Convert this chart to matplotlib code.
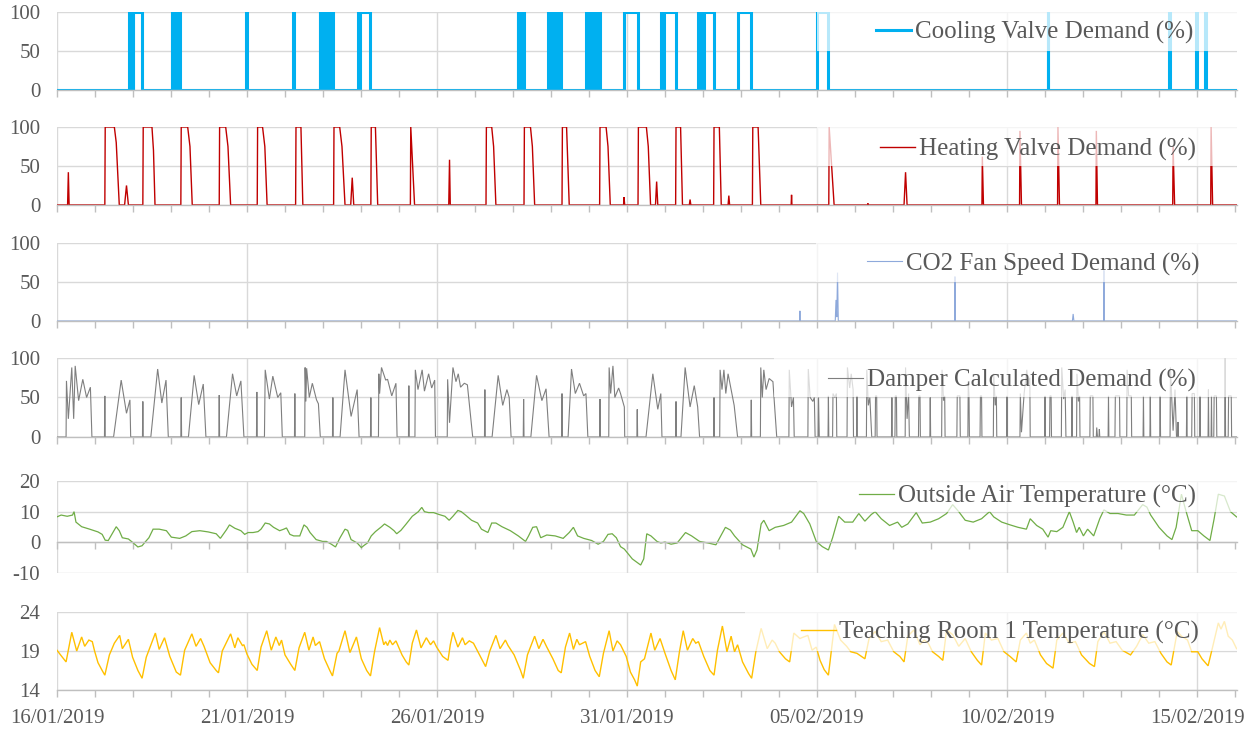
import matplotlib
matplotlib.use("Agg")
import matplotlib.pyplot as plt
import pandas as pd
from matplotlib.patches import Rectangle

plt.rcParams["font.family"] = ["Liberation Serif", "DejaVu Serif"]

START = pd.Timestamp("2019-01-16")
X_END = 31.05  # days after START

# all times are in days after 16/01/2019 00:00

# cooling valve: periods when the valve is at 100 %
cool_on = [
    (1.90, 1.92), (1.935, 1.955), (1.97, 1.99), (2.005, 2.24),
    (3.02, 3.04), (3.06, 3.08), (3.10, 3.12), (3.14, 3.16), (3.18, 3.20), (3.22, 3.24),
    (4.97, 5.01), (6.20, 6.24),
    (6.91, 6.93), (6.95, 6.97), (6.99, 7.01), (7.03, 7.05), (7.07, 7.09),
    (7.11, 7.13), (7.15, 7.17), (7.19, 7.21), (7.23, 7.26),
    (7.93, 7.95), (7.97, 8.25),
    (12.12, 12.14), (12.16, 12.18), (12.20, 12.22), (12.24, 12.28),
    (12.92, 12.94), (12.96, 12.98), (13.00, 13.02), (13.04, 13.06), (13.08, 13.10),
    (13.12, 13.14), (13.16, 13.18), (13.20, 13.22), (13.24, 13.27),
    (13.92, 13.94), (13.96, 13.98), (14.00, 14.02), (14.04, 14.06), (14.08, 14.10),
    (14.12, 14.14), (14.16, 14.18), (14.20, 14.22), (14.24, 14.29),
    (14.93, 15.28),
    (15.89, 15.91), (15.93, 15.95), (15.97, 16.29),
    (16.87, 16.89), (16.91, 16.93), (16.95, 16.97), (16.99, 17.01), (17.03, 17.29),
    (17.91, 18.27), (20.00, 20.30),
    (26.07, 26.09), (29.26, 29.28), (29.98, 30.00), (30.22, 30.24),
]

heat_pts = [
    (0, 0), (0.28, 0), (0.30, 42), (0.32, 0),
    (1.26, 0), (1.27, 100), (1.51, 100), (1.56, 80), (1.64, 0), (1.78, 0), (1.83, 25), (1.88, 0),
    (2.26, 0), (2.27, 100), (2.50, 100), (2.54, 70), (2.58, 0),
    (3.26, 0), (3.27, 100), (3.44, 100), (3.50, 75), (3.56, 0),
    (4.27, 0), (4.28, 100), (4.44, 100), (4.50, 75), (4.57, 0),
    (5.27, 0), (5.28, 100), (5.41, 100), (5.47, 75), (5.53, 0),
    (6.28, 0), (6.29, 100), (6.42, 100), (6.47, 0),
    (7.28, 0), (7.29, 100), (7.44, 100), (7.50, 75), (7.58, 0), (7.73, 0), (7.77, 35), (7.81, 0),
    (8.26, 0), (8.27, 100), (8.38, 100), (8.44, 0),
    (9.30, 0), (9.31, 100), (9.41, 0),
    (10.31, 0), (10.33, 58), (10.35, 0),
    (11.29, 0), (11.30, 100), (11.44, 100), (11.49, 75), (11.55, 0),
    (12.29, 0), (12.30, 100), (12.46, 100), (12.51, 75), (12.57, 0),
    (13.29, 0), (13.30, 100), (13.41, 100), (13.48, 0),
    (14.28, 0), (14.29, 100), (14.45, 100), (14.50, 75), (14.56, 0),
    (14.91, 0), (14.92, 10), (14.94, 0),
    (15.29, 0), (15.30, 100), (15.51, 100), (15.56, 75), (15.62, 0), (15.75, 0), (15.78, 30), (15.81, 0),
    (16.28, 0), (16.29, 100), (16.41, 100), (16.46, 0), (16.64, 0), (16.66, 7), (16.68, 0),
    (17.28, 0), (17.29, 100), (17.43, 100), (17.48, 0), (17.66, 0), (17.68, 12), (17.70, 0),
    (18.30, 0), (18.31, 100), (18.45, 100), (18.52, 0),
    (19.32, 0), (19.33, 13), (19.34, 0),
    (20.31, 0), (20.32, 100), (20.45, 0),
    (21.33, 0), (21.34, 2), (21.35, 0),
    (22.29, 0), (22.33, 42), (22.37, 0),
    (24.34, 0), (24.35, 62), (24.38, 0),
    (25.33, 0), (25.34, 95), (25.38, 0),
    (26.33, 0), (26.34, 100), (26.38, 0),
    (27.34, 0), (27.35, 95), (27.38, 0),
    (29.36, 0), (29.37, 75), (29.41, 0),
    (30.36, 0), (30.37, 100), (30.41, 0), (31.04, 0),
]

co2_pts = [
    (0, 0), (19.54, 0), (19.55, 13), (19.56, 0),
    (20.48, 0), (20.50, 27), (20.52, 5), (20.54, 62), (20.56, 0),
    (23.62, 0), (23.63, 57), (23.64, 0),
    (26.72, 0), (26.74, 9), (26.76, 0),
    (27.54, 0), (27.55, 65), (27.56, 0), (31.04, 0),
]

damper_pts = [
    (0, 0), (0.24, 0), (0.25, 71), (0.30, 23), (0.39, 88), (0.44, 23), (0.48, 90),
    (0.57, 46), (0.68, 73), (0.78, 50), (0.88, 63), (0.92, 0),
    (1.25, 0), (1.26, 52), (1.27, 0), (1.49, 0), (1.69, 72), (1.83, 30), (1.92, 47), (1.94, 0),
    (2.25, 0), (2.26, 45), (2.27, 0), (2.47, 0), (2.65, 86), (2.76, 43), (2.87, 72), (2.93, 0),
    (3.26, 0), (3.27, 50), (3.28, 0), (3.46, 0), (3.61, 78), (3.73, 41), (3.85, 67), (3.92, 0),
    (4.26, 0), (4.27, 53), (4.28, 0), (4.46, 0), (4.62, 80), (4.73, 52), (4.84, 71), (4.92, 0),
    (5.25, 0), (5.26, 57), (5.27, 0), (5.46, 0), (5.48, 85), (5.59, 48), (5.68, 77),
    (5.81, 50), (5.89, 56), (5.93, 0),
    (6.25, 0), (6.26, 55), (6.27, 0), (6.52, 0), (6.53, 88), (6.55, 45), (6.57, 87),
    (6.64, 50), (6.72, 68), (6.83, 47), (6.88, 42), (6.93, 0),
    (7.25, 0), (7.26, 50), (7.27, 0), (7.45, 0), (7.58, 85), (7.74, 26), (7.90, 60), (7.95, 0),
    (8.25, 0), (8.26, 50), (8.27, 0), (8.46, 0), (8.47, 80), (8.49, 55), (8.54, 88),
    (8.65, 72), (8.70, 73), (8.81, 52), (8.92, 68), (8.95, 0),
    (9.25, 0), (9.26, 65), (9.27, 0), (9.42, 0), (9.43, 85), (9.50, 60), (9.61, 85),
    (9.67, 58), (9.78, 80), (9.86, 62), (9.94, 72), (9.96, 0),
    (10.27, 0), (10.28, 73), (10.33, 18), (10.42, 88), (10.50, 70), (10.56, 80),
    (10.62, 63), (10.72, 68), (10.80, 66), (10.94, 0),
    (11.25, 0), (11.26, 60), (11.27, 0), (11.45, 0), (11.61, 78), (11.73, 40),
    (11.84, 60), (11.90, 50), (11.95, 0),
    (12.27, 0), (12.28, 48), (12.29, 0), (12.47, 0), (12.62, 78), (12.76, 46), (12.87, 61), (12.95, 0),
    (13.28, 0), (13.29, 55), (13.30, 0), (13.45, 0), (13.54, 86), (13.64, 55), (13.75, 68),
    (13.86, 52), (13.92, 55), (13.97, 0),
    (14.28, 0), (14.29, 48), (14.30, 0), (14.52, 0), (14.53, 88), (14.57, 55), (14.63, 90),
    (14.68, 50), (14.78, 62), (14.83, 55), (14.93, 38), (14.94, 0),
    (15.26, 0), (15.27, 35), (15.28, 0), (15.50, 0), (15.68, 80), (15.81, 35), (15.89, 55), (15.92, 0),
    (16.28, 0), (16.29, 45), (16.30, 0), (16.42, 0), (16.53, 88), (16.66, 38), (16.77, 65),
    (16.86, 38), (16.91, 0),
    (17.28, 0), (17.29, 50), (17.30, 0), (17.44, 0), (17.45, 85), (17.50, 60), (17.55, 85),
    (17.60, 55), (17.66, 80), (17.82, 40), (17.91, 0),
    (18.26, 0), (18.27, 47), (18.28, 0), (18.51, 0), (18.52, 88), (18.56, 50), (18.60, 85),
    (18.66, 60), (18.74, 74), (18.84, 70), (18.94, 0),
    (19.26, 0), (19.27, 85), (19.33, 38), (19.38, 50), (19.40, 0),
    (19.76, 0), (19.77, 86), (19.82, 50), (19.89, 45), (19.93, 50), (19.95, 0),
    (20.03, 0), (20.04, 50), (20.06, 0), (20.29, 0), (20.30, 52), (20.31, 0),
    (20.41, 0), (20.42, 55), (20.47, 50), (20.51, 55), (20.52, 0),
    (20.79, 0), (20.80, 88), (20.86, 62), (20.90, 80), (20.95, 60), (20.96, 0),
    (21.04, 0), (21.05, 52), (21.06, 0),
    (21.30, 0), (21.31, 85), (21.35, 40), (21.39, 50), (21.44, 0),
    (21.53, 0), (21.54, 52), (21.57, 52), (21.58, 0),
    (21.96, 0), (21.97, 50), (21.98, 0), (22.05, 0), (22.06, 52), (22.09, 52), (22.10, 0),
    (22.32, 0), (22.33, 88), (22.37, 23), (22.41, 55), (22.43, 0),
    (22.67, 0), (22.68, 52), (22.71, 52), (22.72, 0), (22.97, 0), (22.98, 50), (22.99, 0),
    (23.28, 0), (23.29, 85), (23.33, 46), (23.36, 52), (23.37, 0),
    (23.68, 0), (23.69, 52), (23.76, 52), (23.77, 0),
    (23.97, 0), (23.98, 70), (24.00, 50), (24.01, 0),
    (24.29, 0), (24.30, 52), (24.33, 52), (24.34, 0),
    (24.64, 0), (24.65, 80), (24.69, 40), (24.72, 52), (24.73, 0),
    (24.99, 0), (25.00, 52), (25.01, 0),
    (25.34, 0), (25.35, 55), (25.38, 6), (25.45, 55), (25.52, 85), (25.56, 65), (25.60, 75), (25.61, 0),
    (25.99, 0), (26.00, 52), (26.01, 0), (26.12, 0), (26.13, 52), (26.16, 52), (26.17, 0),
    (26.43, 0), (26.44, 88), (26.49, 48), (26.53, 60), (26.55, 0),
    (26.70, 0), (26.71, 52), (26.72, 0),
    (26.83, 0), (26.84, 80), (26.88, 45), (26.91, 52), (26.92, 0),
    (27.18, 0), (27.19, 52), (27.26, 52), (27.27, 0), (27.35, 0), (27.36, 12), (27.38, 0),
    (27.42, 0), (27.43, 10), (27.44, 0),
    (27.66, 0), (27.67, 52), (27.68, 0), (27.84, 0), (27.85, 52), (27.96, 52), (27.97, 0),
    (28.15, 0), (28.16, 85), (28.20, 52), (28.27, 52), (28.28, 0),
    (28.58, 0), (28.59, 52), (28.60, 0), (28.76, 0), (28.77, 52), (28.78, 0),
    (29.02, 0), (29.03, 52), (29.04, 0),
    (29.29, 0), (29.30, 88), (29.37, 8), (29.42, 60), (29.46, 0), (29.49, 0), (29.50, 19), (29.51, 0),
    (29.72, 0), (29.73, 52), (29.74, 0), (29.86, 0), (29.87, 55), (29.93, 55), (29.94, 0),
    (30.07, 0), (30.08, 52), (30.09, 0),
    (30.29, 0), (30.30, 60), (30.31, 0), (30.37, 0), (30.38, 52), (30.39, 0),
    (30.44, 0), (30.45, 52), (30.51, 52), (30.52, 0),
    (30.73, 0), (30.74, 100), (30.75, 0), (30.82, 0), (30.83, 52), (30.90, 52), (30.91, 0), (31.04, 0),
]

oat_pts = [
    (0.00, 8.3), (0.11, 8.9), (0.27, 8.5), (0.41, 8.9), (0.45, 10.0), (0.50, 6.6), (0.65, 5.1),
    (0.86, 4.3), (1.08, 3.4), (1.19, 2.6), (1.27, 0.7), (1.35, 0.6), (1.42, 2.1), (1.56, 5.1),
    (1.64, 3.8), (1.72, 1.5), (1.88, 1.1), (1.99, 0.0), (2.13, -1.5), (2.24, -1.1), (2.32, 0.1),
    (2.42, 1.5), (2.53, 4.3), (2.69, 4.3), (2.88, 3.8), (3.01, 1.7), (3.23, 1.3), (3.39, 2.1),
    (3.55, 3.5), (3.76, 3.8), (3.98, 3.4), (4.19, 2.8), (4.30, 1.3), (4.46, 4.1), (4.54, 5.7),
    (4.68, 4.6), (4.84, 3.8), (4.94, 2.6), (5.03, 3.2), (5.16, 3.2), (5.29, 3.5), (5.37, 4.3),
    (5.48, 6.3), (5.59, 6.0), (5.70, 4.9), (5.86, 3.8), (5.97, 4.3), (6.04, 4.7), (6.13, 2.6),
    (6.23, 2.1), (6.39, 2.1), (6.50, 5.7), (6.58, 4.9), (6.66, 3.2), (6.82, 0.9), (6.99, 0.3),
    (7.09, 0.3), (7.22, -0.6), (7.33, -1.5), (7.44, 1.3), (7.58, 4.3), (7.65, 3.9), (7.74, 0.9),
    (7.90, -0.2), (8.01, -1.7), (8.08, -1.0), (8.17, -0.2), (8.27, 2.1), (8.38, 3.5), (8.54, 5.1),
    (8.62, 6.0), (8.76, 4.9), (8.87, 3.8), (8.94, 2.8), (9.05, 3.9), (9.19, 6.0), (9.35, 8.5),
    (9.51, 10.0), (9.60, 11.4), (9.67, 10.0), (9.78, 9.7), (9.91, 9.7), (10.05, 9.1), (10.21, 8.5),
    (10.32, 7.2), (10.42, 8.5), (10.55, 10.4), (10.64, 10.0), (10.75, 8.9), (10.91, 7.2),
    (11.07, 6.3), (11.17, 4.3), (11.34, 3.2), (11.44, 6.3), (11.55, 6.3), (11.71, 5.1),
    (11.93, 3.8), (12.14, 2.1), (12.33, 0.3), (12.41, 2.1), (12.52, 4.9), (12.62, 5.1),
    (12.73, 1.5), (12.89, 2.4), (13.11, 2.1), (13.32, 1.3), (13.48, 3.2), (13.59, 4.9),
    (13.70, 2.1), (13.86, 1.3), (14.07, 0.6), (14.24, -0.6), (14.38, 0.3), (14.50, 2.6),
    (14.61, 2.8), (14.72, 1.5), (14.83, -1.4), (14.93, -2.2), (15.14, -5.4), (15.36, -7.4),
    (15.44, -5.4), (15.52, 2.8), (15.63, 2.1), (15.79, 0.3), (15.89, -0.2), (16.00, 0.1),
    (16.16, -0.6), (16.32, -0.2), (16.54, 3.2), (16.70, 2.1), (16.91, 0.3), (17.13, -0.2),
    (17.34, -0.8), (17.59, 4.9), (17.72, 4.0), (17.83, 2.1), (18.04, -0.8), (18.26, -2.2),
    (18.34, -4.8), (18.42, -2.5), (18.53, 6.0), (18.60, 7.2), (18.74, 3.8), (18.90, 4.9),
    (19.12, 5.5), (19.33, 6.6), (19.55, 10.3), (19.65, 9.4), (19.81, 6.0), (19.98, 0.3),
    (20.14, -1.4), (20.30, -2.5), (20.41, 1.5), (20.57, 8.5), (20.73, 6.6), (20.94, 6.6),
    (21.10, 9.4), (21.26, 6.9), (21.43, 9.1), (21.53, 10.0), (21.69, 7.7), (21.91, 5.5),
    (22.12, 6.6), (22.23, 4.9), (22.39, 6.0), (22.61, 9.7), (22.77, 6.3), (22.98, 6.6),
    (23.20, 7.7), (23.41, 9.4), (23.57, 12.3), (23.73, 10.0), (23.90, 7.2), (24.11, 6.6),
    (24.33, 7.7), (24.54, 10.0), (24.65, 8.3), (24.86, 6.6), (25.08, 5.7), (25.29, 4.9),
    (25.51, 4.3), (25.61, 7.7), (25.78, 5.5), (25.94, 4.3), (26.08, 1.7), (26.15, 3.8),
    (26.31, 3.5), (26.47, 4.9), (26.64, 10.0), (26.74, 6.6), (26.83, 3.2), (26.90, 4.9),
    (27.01, 2.1), (27.12, 4.3), (27.28, 2.1), (27.44, 7.7), (27.55, 10.6), (27.71, 9.4),
    (27.92, 9.4), (28.14, 8.9), (28.35, 8.9), (28.57, 12.3), (28.68, 11.5), (28.78, 8.9),
    (29.00, 4.9), (29.21, 2.1), (29.34, 0.9), (29.45, 4.9), (29.59, 15.7), (29.70, 10.6),
    (29.86, 3.8), (30.02, 3.8), (30.18, 2.1), (30.34, 0.6), (30.45, 7.7), (30.56, 15.7),
    (30.72, 15.1), (30.88, 10.0), (31.04, 8.3),
]

room_pts = [
    (0.00, 19.1), (0.11, 18.4), (0.24, 17.6), (0.39, 21.4), (0.52, 19.0), (0.65, 20.8),
    (0.73, 19.6), (0.84, 20.4), (0.93, 20.2), (0.99, 19.0), (1.08, 17.5), (1.19, 16.5),
    (1.26, 15.9), (1.38, 18.5), (1.51, 20.0), (1.65, 21.0), (1.72, 19.3), (1.88, 20.5),
    (1.99, 18.2), (2.13, 16.5), (2.24, 15.5), (2.35, 18.2), (2.59, 21.3), (2.69, 19.2),
    (2.83, 20.7), (2.97, 18.3), (3.14, 16.3), (3.25, 15.9), (3.36, 19.1), (3.55, 21.2),
    (3.66, 19.6), (3.78, 20.6), (3.87, 19.6), (4.03, 17.5), (4.19, 16.5), (4.25, 16.2),
    (4.35, 19.0), (4.57, 21.2), (4.68, 19.4), (4.76, 20.7), (4.88, 19.7), (4.92, 19.8),
    (5.00, 18.6), (5.13, 17.3), (5.27, 16.5), (5.37, 19.5), (5.52, 21.6), (5.64, 19.1),
    (5.76, 20.8), (5.85, 19.7), (5.91, 20.4), (6.00, 18.5), (6.15, 17.3), (6.26, 16.5),
    (6.37, 19.4), (6.52, 21.4), (6.63, 19.1), (6.74, 20.8), (6.80, 19.7), (6.91, 20.2),
    (7.04, 18.0), (7.18, 16.5), (7.25, 15.8), (7.37, 18.7), (7.42, 19.0), (7.58, 21.6),
    (7.71, 18.8), (7.88, 20.8), (8.01, 18.0), (8.15, 16.5), (8.25, 15.8), (8.36, 19.0),
    (8.49, 22.0), (8.60, 19.8), (8.65, 20.2), (8.70, 19.7), (8.76, 20.4), (8.83, 19.8),
    (8.92, 20.3), (9.08, 18.5), (9.19, 17.6), (9.26, 17.2), (9.35, 20.0), (9.46, 21.7),
    (9.58, 19.4), (9.72, 20.7), (9.83, 19.8), (9.91, 20.3), (9.99, 19.5), (10.15, 18.3),
    (10.29, 17.8), (10.35, 19.8), (10.42, 21.4), (10.55, 19.5), (10.67, 20.7), (10.74, 19.8),
    (10.85, 20.3), (10.96, 20.0), (11.12, 18.5), (11.28, 17.0), (11.39, 19.0), (11.55, 21.0),
    (11.66, 19.3), (11.80, 20.4), (11.87, 19.7), (12.03, 18.5), (12.20, 16.5), (12.27, 15.5),
    (12.38, 18.5), (12.57, 20.9), (12.68, 19.3), (12.79, 20.5), (12.89, 19.5), (13.05, 18.0),
    (13.19, 16.5), (13.27, 16.2), (13.38, 19.5), (13.49, 21.3), (13.59, 19.2), (13.68, 20.5),
    (13.75, 19.8), (13.91, 20.2), (14.02, 18.3), (14.16, 16.5), (14.27, 15.7), (14.38, 18.7),
    (14.53, 21.6), (14.63, 19.0), (14.74, 20.3), (14.83, 19.8), (14.98, 18.3), (15.09, 16.3),
    (15.20, 15.3), (15.27, 14.5), (15.36, 17.6), (15.46, 18.0), (15.63, 21.3), (15.73, 19.1),
    (15.87, 20.6), (16.00, 18.7), (16.16, 16.5), (16.27, 15.3), (16.38, 18.9), (16.48, 21.6),
    (16.59, 19.1), (16.73, 20.6), (16.81, 20.0), (16.88, 20.2), (17.02, 18.3), (17.18, 16.5),
    (17.29, 15.9), (17.38, 19.1), (17.51, 22.2), (17.63, 18.9), (17.74, 20.9), (17.83, 18.9),
    (17.91, 19.8), (18.04, 17.6), (18.20, 16.1), (18.28, 15.5), (18.39, 18.9), (18.53, 21.9),
    (18.69, 19.3), (18.82, 20.4), (18.90, 20.0), (19.01, 18.9), (19.17, 18.0), (19.28, 17.6),
    (19.39, 21.3), (19.55, 20.6), (19.65, 20.8), (19.76, 21.0), (19.87, 19.1), (19.98, 19.5),
    (20.08, 17.8), (20.19, 16.6), (20.30, 15.9), (20.46, 22.4), (20.62, 20.4), (20.78, 19.6),
    (20.89, 18.9), (21.05, 18.7), (21.26, 18.0), (21.37, 20.6), (21.53, 21.5), (21.69, 20.2),
    (21.86, 20.4), (22.02, 18.9), (22.18, 18.3), (22.29, 17.6), (22.39, 20.9), (22.55, 21.7),
    (22.71, 19.8), (22.82, 20.4), (22.93, 20.0), (23.04, 18.9), (23.20, 18.3), (23.31, 17.8),
    (23.41, 21.7), (23.57, 21.1), (23.73, 19.6), (23.90, 20.6), (24.06, 18.9), (24.22, 17.8),
    (24.33, 17.2), (24.43, 21.3), (24.59, 20.4), (24.76, 20.6), (24.92, 18.9), (25.08, 18.3),
    (25.24, 17.6), (25.35, 20.4), (25.51, 21.3), (25.61, 20.0), (25.72, 20.4), (25.88, 18.5),
    (26.04, 17.4), (26.21, 16.8), (26.31, 20.4), (26.47, 21.3), (26.64, 20.0), (26.80, 20.2),
    (26.96, 18.5), (27.17, 17.4), (27.30, 17.0), (27.39, 20.2), (27.55, 21.5), (27.71, 20.0),
    (27.87, 20.2), (28.03, 19.1), (28.25, 18.5), (28.41, 19.6), (28.57, 21.1), (28.73, 20.0),
    (28.89, 20.2), (29.05, 18.7), (29.21, 17.6), (29.32, 17.2), (29.48, 21.5), (29.59, 20.9),
    (29.75, 20.4), (29.86, 18.9), (30.02, 18.9), (30.13, 18.0), (30.29, 17.1), (30.39, 19.1),
    (30.56, 22.6), (30.63, 21.8), (30.72, 22.8), (30.82, 20.9), (30.93, 20.4), (31.04, 19.3),
]

date_ticks = pd.date_range(START, periods=7, freq="5D")

# cooling step line from the on-periods
cool_t, cool_v = [0.0], [0]
for s, e in cool_on:
    cool_t += [s, s, e, e]
    cool_v += [0, 100, 100, 0]
cool_t.append(31.04)
cool_v.append(0)

GRID = "#D9D9D9"
AXIS = "#BFBFBF"
TEXT = "#595959"

panels = [
    # x, y, colour, width, label, ylim, yticks, axis at, box left, box bottom, legend y, legend right
    (cool_t, cool_v, "#00B0F0", 2.2, "Cooling Valve Demand (%)", (0, 100), [0, 50, 100], 0, 0.644, 0.5, 0.735, 0.963),
    (*zip(*heat_pts), "#C00000", 1.0, "Heating Valve Demand (%)", (0, 100), [0, 50, 100], 0, 0.644, 0.5, 0.715, 0.965),
    (*zip(*co2_pts), "#8EA9DB", 0.8, "CO2 Fan Speed Demand (%)", (0, 100), [0, 50, 100], 0, 0.643, 0.5, 0.73, 0.968),
    (*zip(*damper_pts), "#7F7F7F", 0.8, "Damper Calculated Demand (%)", (0, 100), [0, 50, 100], 0, 0.608, 0.5, 0.715, 0.965),
    (*zip(*oat_pts), "#70AD47", 0.9, "Outside Air Temperature (°C)", (-10, 20), [-10, 0, 10, 20], 0, 0.644, 0.667, 0.83, 0.965),
    (*zip(*room_pts), "#FFC000", 1.0, "Teaching Room 1 Temperature (°C)", (14, 24), [14, 19, 24], 14, 0.583, 0.5, 0.735, 0.968),
]

# axes rectangles in figure fractions (left, bottom, width, height)
boxes = [
    (0.0452, 0.8769, 0.9365, 0.1067),
    (0.0452, 0.7196, 0.9365, 0.1067),
    (0.0452, 0.5609, 0.9365, 0.1067),
    (0.0452, 0.4022, 0.9365, 0.1081),
    (0.0452, 0.2161, 0.9365, 0.1259),
    (0.0452, 0.0561, 0.9365, 0.1067),
]

fig = plt.figure(figsize=(12.6, 7.31), dpi=100)

for i, (p, rect) in enumerate(zip(panels, boxes)):
    t, v, color, lw, label, ylim, yticks, axis_at, bx, by, ly, lx = p
    ax = fig.add_axes(rect)
    ax.plot(t, v, color=color, lw=lw, label=label, zorder=2, solid_joinstyle="miter")
    ax.set_xlim(0, X_END)
    ax.set_ylim(*ylim)
    ax.set_yticks(yticks)
    ax.set_yticklabels([str(y) for y in yticks])
    ax.set_xticks([(d - START).days for d in date_ticks])
    ax.set_xticks(range(0, 32), minor=True)
    for side in ["top", "right", "left"]:
        ax.spines[side].set_visible(False)
    ax.spines["bottom"].set_position(("data", axis_at))
    ax.spines["bottom"].set_color(AXIS)
    ax.spines["bottom"].set_linewidth(1.0)
    ax.set_axisbelow(True)
    ax.grid(axis="y", color=GRID, lw=1.0)
    ax.grid(axis="x", which="major", color=GRID, lw=1.0)
    ax.tick_params(axis="x", which="both", direction="out", length=5, width=1, color=AXIS)
    ax.tick_params(axis="y", length=0, pad=12, labelsize=15, labelcolor=TEXT)
    if i == len(panels) - 1:
        ax.set_xticklabels([d.strftime("%d/%m/%Y") for d in date_ticks])
        ax.tick_params(axis="x", labelsize=15, labelcolor=TEXT, pad=9)
    else:
        ax.tick_params(axis="x", labelbottom=False)

    # half-transparent legend area, as in the spreadsheet chart
    ax.add_patch(Rectangle((bx, by), 1 - bx, 1.04 - by, transform=ax.transAxes,
                           facecolor="white", alpha=0.72, edgecolor="none",
                           zorder=3, clip_on=False))
    leg = ax.legend(loc="center right", bbox_to_anchor=(lx, ly), frameon=False,
                    fontsize=18, handlelength=1.4, handletextpad=0.15,
                    borderpad=0, borderaxespad=0, labelcolor=TEXT)
    leg.set_zorder(4)

fig.savefig("out.png", dpi=100)
